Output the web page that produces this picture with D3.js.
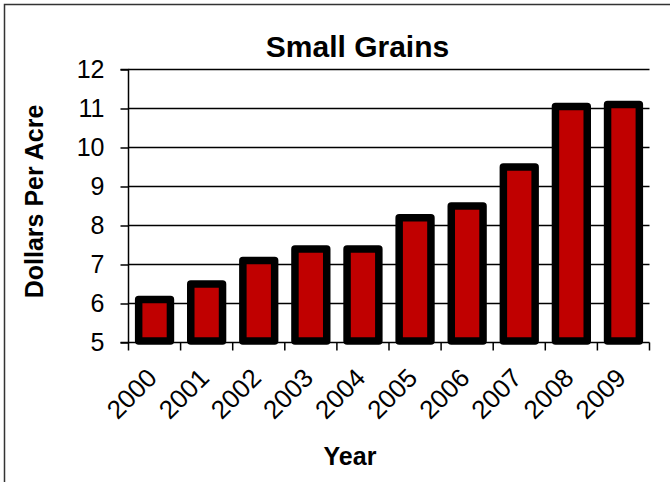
<!DOCTYPE html>
<html>
<head>
<meta charset="utf-8">
<script src="https://cdn.jsdelivr.net/npm/d3@7"></script>
<style>
  html, body { margin: 0; padding: 0; background: #fff; }
  svg { display: block; font-family: "Liberation Sans", Arial, sans-serif; }
</style>
</head>
<body>
<svg id="chart" width="670" height="482"></svg>
<script>
const years = ["2000","2001","2002","2003","2004","2005","2006","2007","2008","2009"];
const values = [6.1, 6.5, 7.1, 7.4, 7.4, 8.2, 8.5, 9.5, 11.05, 11.1];
const yTicks = [5, 6, 7, 8, 9, 10, 11, 12];
const title = "Small Grains";
const xTitle = "Year";
const yTitle = "Dollars Per Acre";

const svg = d3.select("#chart");
const W = 670, H = 482;
const plot = { left: 128.5, right: 649.5, top: 69.5, bottom: 342.5 };

svg.append("rect").attr("x", 0).attr("y", 0).attr("width", W).attr("height", H).attr("fill", "#fff");
// outer chart border (only top/left visible in frame)
svg.append("rect").attr("x", 4.5).attr("y", 4.5).attr("width", W + 20).attr("height", H + 20)
  .attr("fill", "none").attr("stroke", "#333").attr("stroke-width", 1.5);

const x = d3.scaleBand().domain(years).range([plot.left, plot.right]).padding(0);
const y = d3.scaleLinear().domain([5, 12]).range([plot.bottom, plot.top]);

// gridlines
svg.append("g").selectAll("line").data(yTicks.filter(d => d > 5)).join("line")
  .attr("x1", plot.left).attr("x2", plot.right)
  .attr("y1", d => y(d)).attr("y2", d => y(d))
  .attr("stroke", "#000").attr("stroke-width", 1.5);

// bars
const barW = x.bandwidth() * 0.61;
svg.append("g").selectAll("rect").data(values).join("rect")
  .attr("x", (d, i) => x(years[i]) + (x.bandwidth() - barW) / 2)
  .attr("y", d => y(d))
  .attr("width", barW)
  .attr("height", d => y(5) - 1.5 - y(d))
  .attr("fill", "#C00000")
  .attr("stroke", "#000")
  .attr("stroke-width", 7.5)
  .attr("stroke-linejoin", "round");

// y axis
const yAxis = d3.axisLeft(y).tickValues(yTicks).tickSize(8).tickPadding(16).tickFormat(d3.format("d"));
const gy = svg.append("g").attr("transform", `translate(${plot.left},0)`).call(yAxis);
gy.select(".domain").attr("stroke", "#000").attr("stroke-width", 1.5).attr("d", `M-8,${plot.top}H0V${plot.bottom}H-8`);
gy.selectAll(".tick line").attr("stroke", "#000").attr("stroke-width", 1.5);
gy.selectAll(".tick text").attr("font-size", 25).attr("fill", "#000")
  .attr("font-family", "Liberation Sans, Arial, sans-serif");

// x axis
const gx = svg.append("g").attr("transform", `translate(0,${plot.bottom})`);
gx.append("line").attr("x1", plot.left).attr("x2", plot.right).attr("y1", 0).attr("y2", 0)
  .attr("stroke", "#000").attr("stroke-width", 1.5);
const boundaries = years.map(d => x(d)).concat([plot.right]);
gx.selectAll("line.tk").data(boundaries).join("line").attr("class", "tk")
  .attr("x1", d => d).attr("x2", d => d).attr("y1", 0).attr("y2", 8)
  .attr("stroke", "#000").attr("stroke-width", 1.5);
gx.selectAll("text").data(years).join("text")
  .attr("transform", d => `translate(${x(d) + x.bandwidth() / 2 + 4},${37}) rotate(-45)`)
  .attr("text-anchor", "end")
  .attr("font-size", 26)
  .attr("fill", "#000")
  .text(d => d);

// titles
svg.append("text").attr("x", 357.5).attr("y", 56.5).attr("text-anchor", "middle")
  .attr("font-size", 30).attr("font-weight", "bold").attr("fill", "#000").text(title);
svg.append("text").attr("x", 350).attr("y", 465).attr("text-anchor", "middle")
  .attr("font-size", 25).attr("font-weight", "bold").attr("fill", "#000").text(xTitle);
svg.append("text").attr("transform", "translate(43,201.5) rotate(-90)").attr("text-anchor", "middle")
  .attr("font-size", 25).attr("font-weight", "bold").attr("fill", "#000").text(yTitle);
</script>
</body>
</html>
